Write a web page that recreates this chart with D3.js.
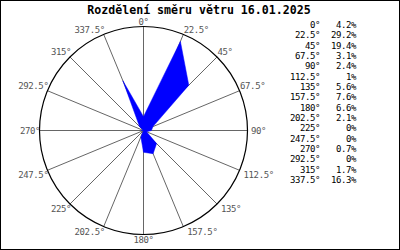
<!DOCTYPE html>
<html>
<head>
<meta charset="utf-8">
<script src="https://cdn.jsdelivr.net/npm/d3@7"></script>
<style>
  body { margin: 0; background: #fff; }
  svg { display: block; }
</style>
</head>
<body>
<script>
var title = "Rozdělení směru větru 16.01.2025";
var directions = [0, 22.5, 45, 67.5, 90, 112.5, 135, 157.5, 180, 202.5, 225, 247.5, 270, 292.5, 315, 337.5];
var percents = [4.2, 29.2, 19.4, 3.1, 2.4, 1, 5.6, 7.6, 6.6, 2.1, 0, 0, 0.7, 0, 1.7, 16.3];
var dirLabels = ["0°", "22.5°", "45°", "67.5°", "90°", "112.5°", "135°", "157.5°", "180°", "202.5°", "225°", "247.5°", "270°", "292.5°", "315°", "337.5°"];
var pctLabels = ["4.2%", "29.2%", "19.4%", "3.1%", "2.4%", "1%", "5.6%", "7.6%", "6.6%", "2.1%", "0%", "0%", "0.7%", "0%", "1.7%", "16.3%"];

var width = 400, height = 250;
var cx = 143.5, cy = 130.5, R = 104;
var mono = "'DejaVu Sans Mono', 'Liberation Mono', monospace";

var svg = d3.select("body").append("svg")
    .attr("width", width)
    .attr("height", height);

// outer frame
svg.append("rect")
    .attr("x", 0.5).attr("y", 0.5)
    .attr("width", width - 1).attr("height", height - 1)
    .attr("fill", "#fff").attr("stroke", "#000");

svg.append("text")
    .attr("x", 199).attr("y", 14)
    .attr("text-anchor", "middle")
    .attr("font-family", mono)
    .attr("font-weight", "bold")
    .attr("font-size", "11.6px")
    .text(title);

var r = d3.scaleLinear().domain([0, 31.5]).range([0, R]);
var ang = function(d) { return d * Math.PI / 180; };

var g = svg.append("g").attr("transform", "translate(" + cx + "," + cy + ")");

// spokes
g.selectAll("line.spoke").data(directions).enter().append("line")
    .attr("class", "spoke")
    .attr("x1", 0).attr("y1", 0)
    .attr("x2", function(d) { return R * Math.sin(ang(d)); })
    .attr("y2", function(d) { return -R * Math.cos(ang(d)); })
    .attr("stroke", "#666").attr("stroke-width", 1);

// rose area
var rose = d3.lineRadial()
    .angle(function(d, i) { return ang(directions[i]); })
    .radius(function(d) { return r(d); })
    .curve(d3.curveLinearClosed);

g.append("path")
    .datum(percents)
    .attr("d", rose)
    .attr("fill", "#0000ff")
    .attr("stroke", "#0000ff")
    .attr("stroke-width", 0.5);

// outer circle
g.append("circle")
    .attr("r", R)
    .attr("fill", "none")
    .attr("stroke", "#000").attr("stroke-width", 1.2);

// direction labels
g.selectAll("text.dir").data(directions).enter().append("text")
    .attr("class", "dir")
    .attr("font-family", mono)
    .attr("font-size", "9px")
    .attr("letter-spacing", "-0.4px")
    .attr("fill", "#555")
    .attr("x", function(d) {
        var s = Math.sin(ang(d)), c = Math.cos(ang(d));
        var x = R * s;
        if (Math.abs(s) < 0.01) return x;
        if (Math.abs(c) < 0.01) return s > 0 ? x + 3.5 : x + 0.5;
        if (s > 0) return x + (c < 0 ? 4 : 0.5);
        return x + 1;
    })
    .attr("y", function(d) {
        var c = Math.cos(ang(d));
        var y = -R * c;
        if (Math.abs(c) < 0.01) return y + 3;
        if (c > 0) return y - 1.5;
        return y + 8;
    })
    .attr("text-anchor", function(d) {
        var s = Math.sin(ang(d));
        if (Math.abs(s) < 0.01) return "middle";
        return s > 0 ? "start" : "end";
    })
    .text(function(d, i) { return dirLabels[i]; });

// legend
var rowY = d3.scaleLinear().domain([0, 15]).range([28, 183]);
var leg = svg.append("g")
    .attr("font-family", mono)
    .attr("font-size", "9px")
    .attr("letter-spacing", "-0.4px")
    .attr("fill", "#000");

leg.selectAll("text.ld").data(dirLabels).enter().append("text")
    .attr("class", "ld")
    .attr("x", 320).attr("y", function(d, i) { return rowY(i); })
    .attr("text-anchor", "end")
    .text(function(d) { return d; });

leg.selectAll("text.lp").data(pctLabels).enter().append("text")
    .attr("class", "lp")
    .attr("x", 356).attr("y", function(d, i) { return rowY(i); })
    .attr("text-anchor", "end")
    .text(function(d) { return d; });
</script>
</body>
</html>
